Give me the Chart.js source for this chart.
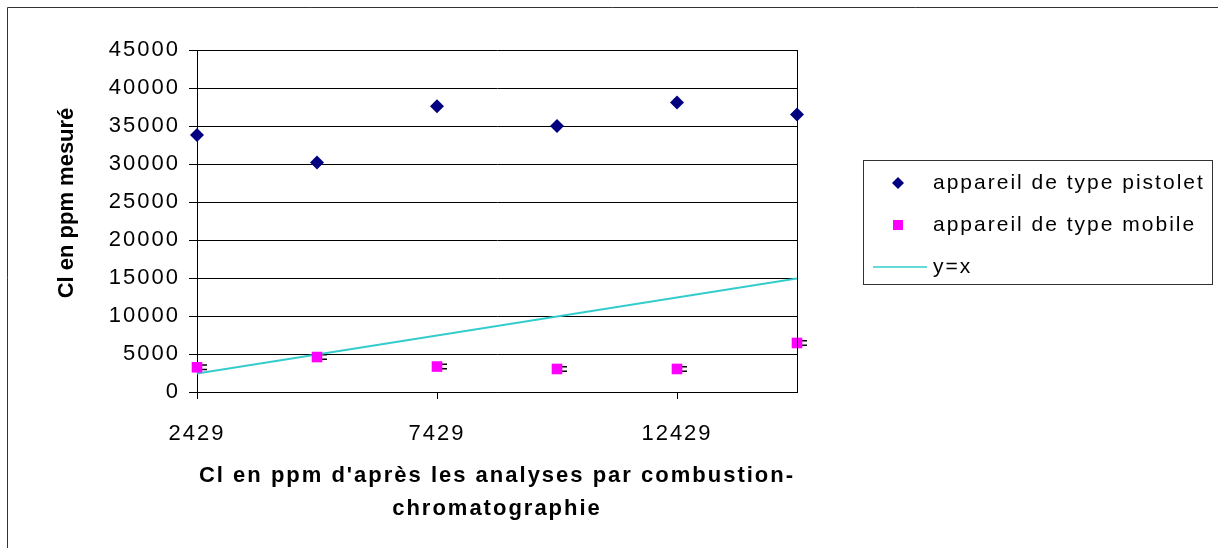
<!DOCTYPE html>
<html>
<head>
<meta charset="utf-8">
<script src="https://cdn.jsdelivr.net/npm/chart.js@4.4.1/dist/chart.umd.min.js"></script>
<style>
  html, body { margin: 0; padding: 0; background: #fff; }
  #wrap { width: 1218px; height: 548px; }
</style>
</head>
<body>
<div id="wrap"><canvas id="clChart" width="1218" height="548"></canvas></div>
<script>
// reference values (ppm, combustion-chromatographie)
const refPpm = [2429, 4929, 7429, 9929, 12429, 14929];
// measured values
const pistolet = [33800, 30200, 37600, 35000, 38100, 36500];
const mobile = [3250, 4600, 3350, 3030, 3030, 6450];
const mobileErr = [300, 300, 300, 300, 300, 300];
const xTicks = [2429, 7429, 12429];
const yTicks = [0, 5000, 10000, 15000, 20000, 25000, 30000, 35000, 40000, 45000];
const yTitle = "Cl en ppm mesuré";

const FONT = "'Liberation Sans', Arial, sans-serif";
const SPACING = "2px";

// wide lettering for all horizontal text
const spacing = {
  id: "spacing",
  beforeDraw(chart) { chart.ctx.letterSpacing = SPACING; }
};

// small error caps next to the mobile points
const errorBars = {
  id: "errorBars",
  beforeDatasetsDraw(chart) {
    const ctx = chart.ctx;
    const xs = chart.scales.x, ys = chart.scales.y;
    ctx.save();
    ctx.strokeStyle = "#000";
    ctx.lineWidth = 1.5;
    mobile.forEach((v, i) => {
      const px = xs.getPixelForValue(refPpm[i]);
      const top = ys.getPixelForValue(v + mobileErr[i]);
      const bot = ys.getPixelForValue(v - mobileErr[i]);
      ctx.beginPath();
      ctx.moveTo(px, top); ctx.lineTo(px, bot);
      ctx.moveTo(px, top); ctx.lineTo(px + 10, top);
      ctx.moveTo(px, bot); ctx.lineTo(px + 10, bot);
      ctx.stroke();
    });
    ctx.restore();
  }
};

// plot frame, outer frame, y title and legend box
const frame = {
  id: "frame",
  afterDraw(chart) {
    const ctx = chart.ctx;
    const a = chart.chartArea;
    ctx.save();
    ctx.strokeStyle = "#000";
    ctx.lineWidth = 1;
    ctx.beginPath();
    ctx.moveTo(a.right + 0.5, a.top);
    ctx.lineTo(a.right + 0.5, a.bottom);
    ctx.stroke();

    // outer border
    ctx.strokeStyle = "#333";
    ctx.beginPath();
    ctx.moveTo(7.5, 548);
    ctx.lineTo(7.5, 7.5);
    ctx.lineTo(1218, 7.5);
    ctx.stroke();

    // y axis title
    ctx.save();
    ctx.letterSpacing = "0px";
    ctx.translate(67, 203);
    ctx.rotate(-Math.PI / 2);
    ctx.font = "bold 22px " + FONT;
    ctx.fillStyle = "#000";
    ctx.textAlign = "center";
    ctx.textBaseline = "middle";
    ctx.fillText(yTitle, 0, 0);
    ctx.restore();

    // legend
    const lx = 863, ly = 160, lw = 349, lh = 124;
    ctx.strokeStyle = "#333";
    ctx.strokeRect(lx + 0.5, ly + 0.5, lw, lh);
    ctx.font = "21px " + FONT;
    ctx.fillStyle = "#000";
    ctx.textBaseline = "middle";
    const items = chart.data.datasets;
    const rows = [183, 225, 267];
    items.forEach((ds, i) => {
      const y = rows[i];
      if (i === 0) {
        ctx.fillStyle = ds.backgroundColor;
        ctx.beginPath();
        ctx.moveTo(898, y - 6); ctx.lineTo(904, y); ctx.lineTo(898, y + 6); ctx.lineTo(892, y);
        ctx.closePath(); ctx.fill();
      } else if (i === 1) {
        ctx.fillStyle = ds.backgroundColor;
        ctx.fillRect(893, y - 5, 10, 10);
      } else {
        ctx.strokeStyle = ds.borderColor;
        ctx.lineWidth = 1.5;
        ctx.beginPath(); ctx.moveTo(873, y); ctx.lineTo(927, y); ctx.stroke();
      }
      ctx.fillStyle = "#000";
      ctx.fillText(ds.label, 933, y);
    });
    ctx.restore();
  }
};

new Chart(document.getElementById("clChart"), {
  type: "scatter",
  data: {
    datasets: [
      {
        label: "appareil de type pistolet",
        data: refPpm.map((x, i) => ({ x: x, y: pistolet[i] })),
        pointStyle: "rectRot",
        pointRadius: 7,
        backgroundColor: "#000080",
        borderColor: "#000080",
        borderWidth: 0,
        clip: false
      },
      {
        label: "appareil de type mobile",
        data: refPpm.map((x, i) => ({ x: x, y: mobile[i] })),
        pointStyle: "rect",
        pointRadius: 7.5,
        backgroundColor: "#FF00FF",
        borderColor: "#FF00FF",
        borderWidth: 0,
        clip: false
      },
      {
        label: "y=x",
        data: [{ x: refPpm[0], y: refPpm[0] }, { x: refPpm[refPpm.length - 1], y: refPpm[refPpm.length - 1] }],
        showLine: true,
        pointRadius: 0,
        borderColor: "#33CCCC",
        backgroundColor: "#33CCCC",
        borderWidth: 2
      }
    ]
  },
  options: {
    responsive: false,
    animation: false,
    layout: { padding: { left: 0, top: 50, right: 421, bottom: 0 } },
    plugins: { legend: { display: false }, tooltip: { enabled: false } },
    scales: {
      x: {
        type: "linear",
        min: refPpm[0],
        max: refPpm[refPpm.length - 1],
        afterBuildTicks: (s) => { s.ticks = xTicks.map(v => ({ value: v })); },
        afterFit: (s) => { s.height = 156; },
        grid: { drawOnChartArea: false, drawTicks: true, tickLength: 7, color: "#000" },
        border: { color: "#000", width: 1 },
        ticks: { color: "#000", font: { family: FONT, size: 22 }, padding: 22, maxRotation: 0, callback: (v) => String(v) },
        title: {
          display: true,
          text: ["Cl en ppm d'après les analyses par combustion-", "chromatographie"],
          color: "#000",
          font: { family: FONT, size: 22, weight: "bold", lineHeight: "33px" },
          padding: { top: 0, bottom: 23 }
        }
      },
      y: {
        min: 0,
        max: 45000,
        afterBuildTicks: (s) => { s.ticks = yTicks.map(v => ({ value: v })); },
        afterFit: (s) => { s.width = 197; },
        grid: { color: "#000", tickLength: 8, lineWidth: 1 },
        border: { color: "#000", width: 1 },
        ticks: { color: "#000", font: { family: FONT, size: 22 }, padding: 9, callback: (v) => String(v) },
        title: { display: false }
      }
    }
  },
  plugins: [spacing, errorBars, frame]
});
</script>
</body>
</html>
